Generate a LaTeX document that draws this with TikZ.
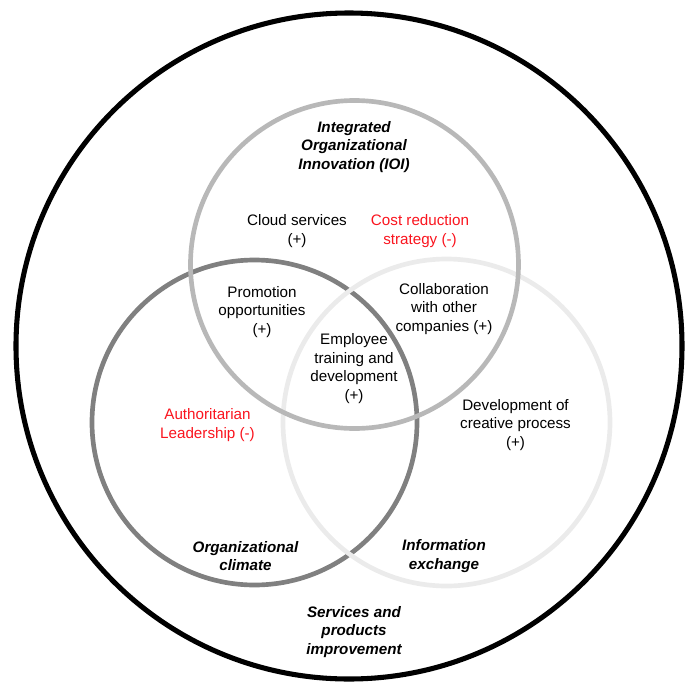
\documentclass[tikz,border=0pt]{standalone}
\usepackage{fontspec}
\setmainfont{Liberation Sans}
\usetikzlibrary{positioning}
\definecolor{ringtop}{gray}{0.72}
\definecolor{ringleft}{gray}{0.5}
\definecolor{ringright}{gray}{0.92}
\definecolor{negred}{RGB}{250,20,30}
\tikzstyle{venntext}=[align=center,inner sep=0pt,font=\fontsize{11.4}{14}\selectfont]
\tikzstyle{setname}=[venntext,font=\fontsize{11.4}{14}\selectfont\bfseries\itshape]
\tikzstyle{negative}=[venntext,text=negred]
\tikzstyle{ring}=[line width=3.5pt]
\newcommand{\vennring}[3]{% colour, centre, radius
	\draw[ring,#1] (#2) circle [radius=#3];
}

\begin{document}
\begin{tikzpicture}[x=0.75pt,y=-0.75pt]
	\useasboundingbox (0,0) rectangle (685,690);
	% centres of the rings
	\coordinate (outer) at (349,346);
	\coordinate (ioi) at (354.5,264.5);
	\coordinate (climate) at (254.5,422.5);
	\coordinate (exchange) at (446.5,422.5);
	\draw[line width=3.8pt] (outer) circle [radius=333];
	\vennring{ringleft}{climate}{162.5}
	\vennring{ringright}{exchange}{163.5}
	\vennring{ringtop}{ioi}{164}
	% set names
	\node[setname] (ioiname) at (354,147) {Integrated\\Organizational\\Innovation (IOI)};
	\node[setname] (climatename) at (245.5,556) {Organizational\\climate};
	\node[setname] (exchangename) at (444,556) {Information\\exchange};
	\node[setname] (servicesname) at (354,632) {Services and\\products\\improvement};
	% items
	\node[venntext] (cloud) at (297,231) {Cloud services\\(+)};
	\node[negative] (cost) at (420,231) {Cost reduction\\strategy (-)};
	\node[venntext] (promotion) at (262,312) {Promotion\\opportunities\\(+)};
	\node[venntext] (collab) at (444,309) {Collaboration\\with other\\companies (+)};
	\node[venntext] (training) at (354,368.5) {Employee\\training and\\development\\(+)};
	\node[negative] (leadership) at (207.5,425) {Authoritarian\\Leadership (-)};
	\node[venntext] (creative) at (515.5,425) {Development of\\creative process\\(+)};
\end{tikzpicture}
\end{document}
